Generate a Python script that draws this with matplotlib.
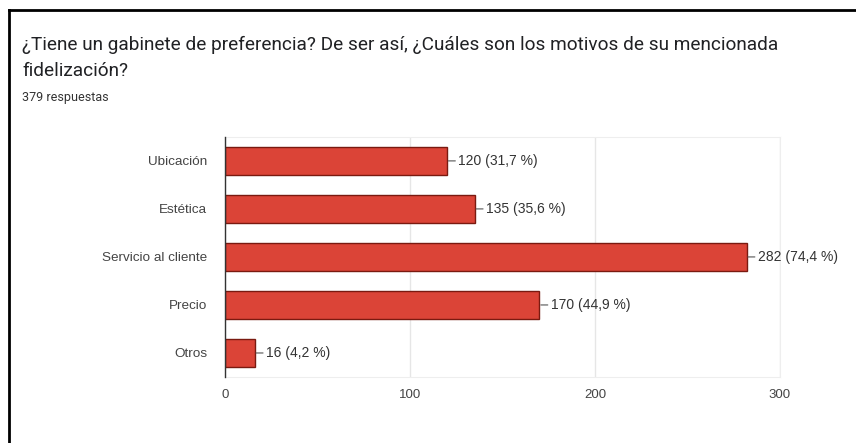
import matplotlib.pyplot as plt
from matplotlib.lines import Line2D

categorias = ["Ubicación", "Estética", "Servicio al cliente", "Precio", "Otros"]
respuestas = [120, 135, 282, 170, 16]
porcentajes = ["31,7", "35,6", "74,4", "44,9", "4,2"]
total = 379
ticks_x = [0, 100, 200, 300]

plt.rcParams["font.family"] = ["Liberation Sans", "DejaVu Sans"]

fig = plt.figure(figsize=(8.56, 4.43), dpi=100)
ax = fig.add_axes([0.263, 0.149, 0.648, 0.542])

y = list(range(len(categorias)))
ax.barh(y, respuestas, height=0.59, color="#db4437", edgecolor="#7a1a10", linewidth=1.0, zorder=3)

for yi, v, p in zip(y, respuestas, porcentajes):
    ax.annotate(f"{v} ({p} %)", xy=(v, yi), xytext=(8, 0), textcoords="offset points",
                va="center", ha="left", fontsize=10, color="#333333",
                arrowprops=dict(arrowstyle="-", color="#555555", lw=0.8, shrinkA=0, shrinkB=1))

ax.set_ylim(len(categorias) - 0.5, -0.5)
ax.set_xlim(0, 300)
ax.set_yticks(y)
ax.set_yticklabels(categorias, fontsize=9.7, color="#444444")
ax.set_xticks(ticks_x)
ax.set_xticklabels([str(t) for t in ticks_x], fontsize=9.5, color="#444444")
ax.tick_params(axis="y", length=0, pad=13)
ax.tick_params(axis="x", length=0, pad=9)
ax.grid(axis="x", color="#e6e6e6", linewidth=1, zorder=0)

for s in ["top", "right", "bottom"]:
    ax.spines[s].set_color("#eeeeee")
ax.spines["left"].set_color("#333333")
ax.spines["left"].set_linewidth(1.0)
ax.spines["left"].set_zorder(4)

titulo = "¿Tiene un gabinete de preferencia? De ser así, ¿Cuáles son los motivos de su mencionada"
fig.text(0.026, 0.898, titulo, fontsize=13.65, color="#202124", va="center", family="Roboto")
fig.text(0.026, 0.840, "fidelización?", fontsize=13.65, color="#202124", va="center", family="Roboto")
fig.text(0.026, 0.779, f"{total} respuestas", fontsize=9, color="#333333", va="center", family="Roboto")

# marco negro arriba y a la izquierda
fig.add_artist(Line2D([0.010, 1.0], [0.977, 0.977], color="black", linewidth=2, transform=fig.transFigure))
fig.add_artist(Line2D([0.010, 0.010], [0.0, 0.977], color="black", linewidth=2, transform=fig.transFigure))

fig.savefig("out.png", dpi=100)
